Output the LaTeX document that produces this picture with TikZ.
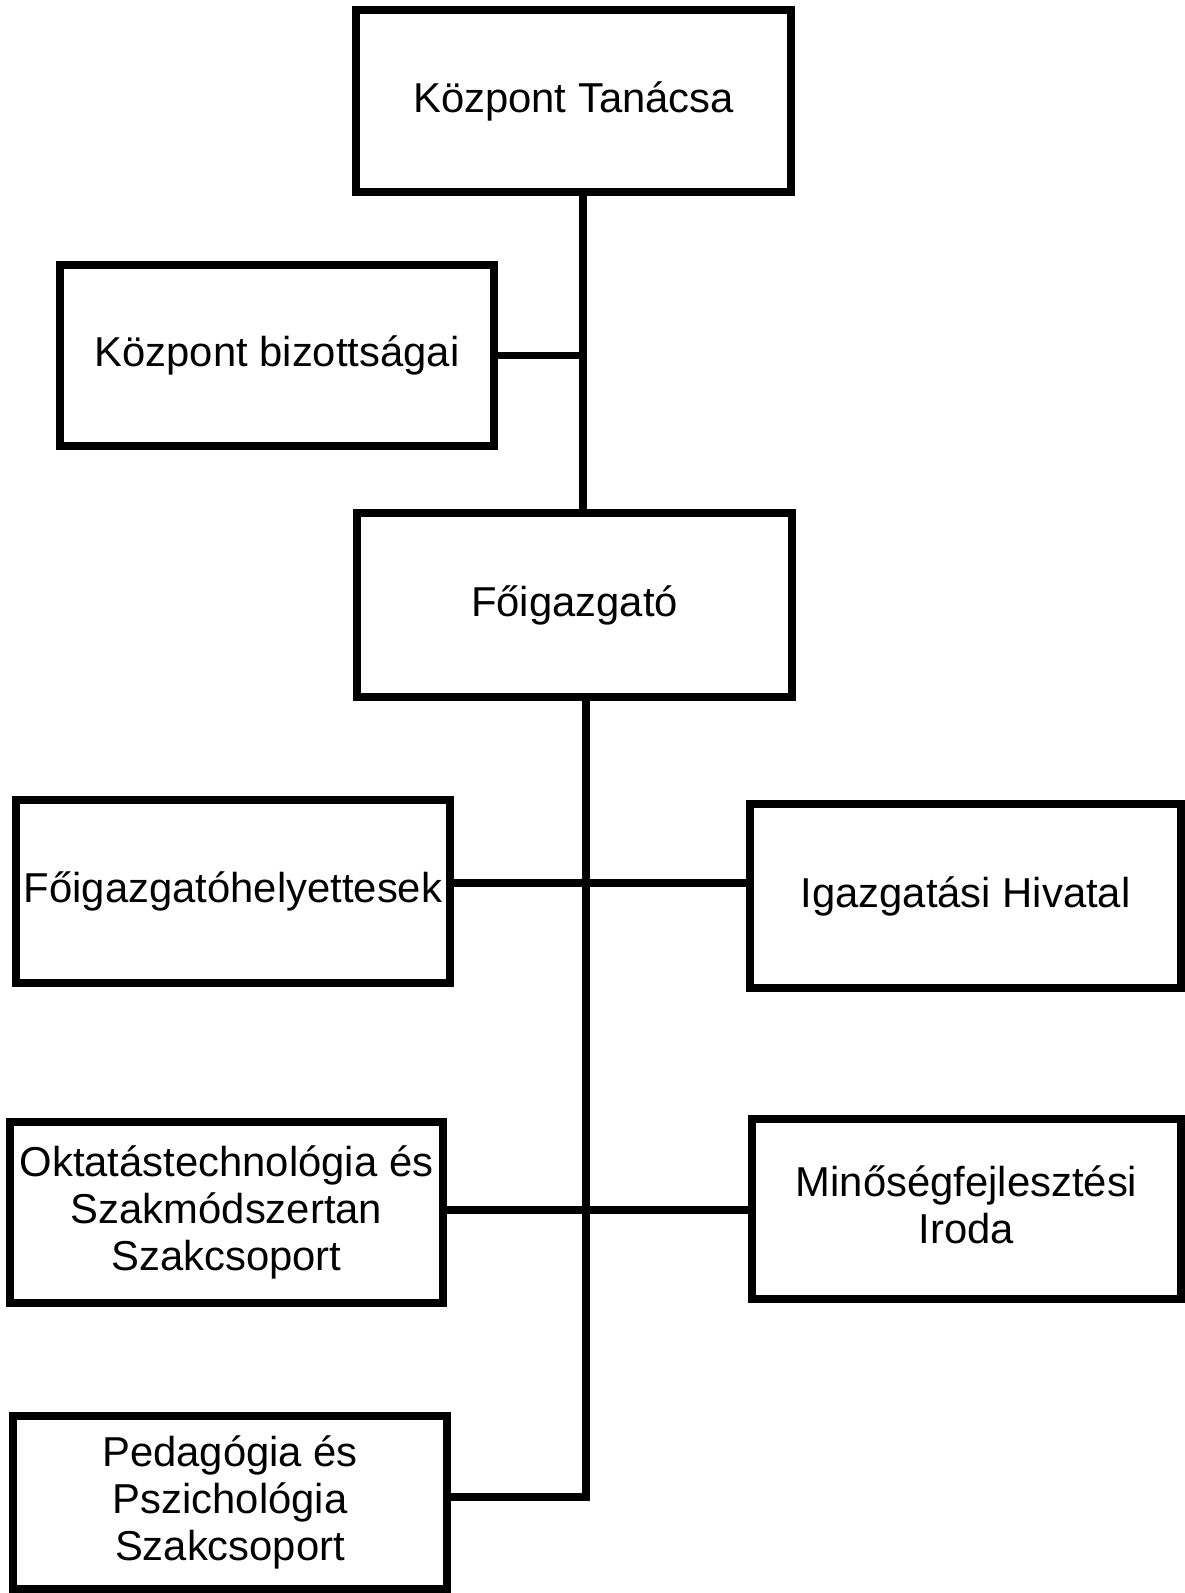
\documentclass[tikz,border=0pt]{standalone}
\usepackage{fontspec}
\setmainfont{Liberation Sans}
\begin{document}
\begin{tikzpicture}[x=1pt,y=-1pt,
  orgbox/.style={draw=black, line width=8pt, rectangle, inner sep=0pt, outer sep=0pt,
    align=center, font=\fontsize{41.8}{47}\selectfont},
  conn/.style={draw=black, line width=7.5pt, line join=miter}]
\useasboundingbox (0,0) rectangle (1185,1593);
\fill[white] (0,0) rectangle (1185,1593);
% boxes: centre, width, height from centreline corners
\node[orgbox, minimum width=435pt, minimum height=182pt] (n1) at (573.5,101) {Központ Tanácsa};
\node[orgbox, minimum width=434pt, minimum height=181pt] (n2) at (277,355.5) {Központ bizottságai};
\node[orgbox, minimum width=435pt, minimum height=184pt] (n3) at (574.5,605) {Főigazgató};
\node[orgbox, minimum width=434pt, minimum height=183pt] (n4) at (233,891.5) {Főigazgatóhelyettesek};
\node[orgbox, minimum width=431pt, minimum height=184pt] (n5) at (965.5,896) {Igazgatási Hivatal};
\node[orgbox, minimum width=433pt, minimum height=181pt] (n6) at (226.5,1212.5) {Oktatástechnológia és\\Szakmódszertan\\Szakcsoport};
\node[orgbox, minimum width=429pt, minimum height=180pt] (n7) at (966.5,1209) {Minőségfejlesztési\\Iroda\\[-39pt]};
\node[orgbox, minimum width=434pt, minimum height=173pt] (n8) at (230,1502.5) {Pedagógia és\\Pszichológia\\Szakcsoport};
% connectors
\coordinate (v1) at (583,0);
\coordinate (v2) at (586,0);
\coordinate (h45) at (0,883);
\coordinate (h67) at (0,1210);
\coordinate (j8) at (586,1497);
\draw[conn] (v1 |- n1.south) -- (v1 |- n3.north);
\draw[conn] (n2.east) -- (v1 |- n2.east);
\draw[conn] (v2 |- n3.south) -- (j8) -- (j8 -| n8.east);
\draw[conn] (n4.east |- h45) -- (n5.west |- h45);
\draw[conn] (n6.east |- h67) -- (n7.west |- h67);
\end{tikzpicture}
\end{document}
